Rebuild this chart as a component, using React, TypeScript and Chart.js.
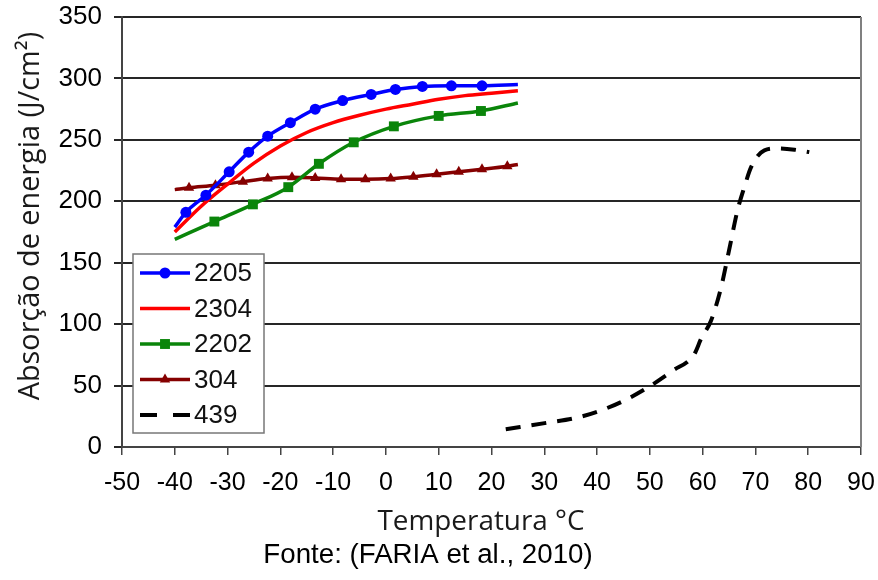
import React, { useEffect, useRef } from 'react';
import { Chart, registerables } from 'chart.js';

Chart.register(...registerables);

// ---- Data ----
const T_2205 = [-40, -37.9, -34.1, -29.7, -26, -22.4, -18.1, -13.4, -8.2, -2.8, 1.8, 6.9, 12.4, 18.2, 25];
const E_2205 = [179, 191, 205, 224, 240, 253, 264, 275, 282, 287, 291, 293.5, 294, 294, 295];

const T_2304 = [-40, -35, -30, -25, -20, -15, -10, -5, 0, 5, 10, 15, 20, 25];
const E_2304 = [175, 196, 214, 231, 245, 256, 264, 270, 275, 279, 283, 286, 288, 290];

const T_2202 = [-40, -32.5, -25.2, -18.5, -12.7, -6.1, 1.5, 10, 18, 25];
const E_2202 = [169, 183.5, 197.5, 211.5, 230.5, 248, 261, 269.5, 273.5, 280];

const T_304 = [-40, -37.3, -32.3, -27.1, -22.4, -17.8, -13.4, -8.5, -3.9, 0.9, 5.2, 9.6, 13.8, 18.2, 23, 25];
const E_304 = [209.5, 211, 213, 216, 218.5, 219.5, 219, 218, 218, 218.5, 220, 222, 224, 226, 228.5, 230];

const T_439 = [22.7, 30.6, 36.3, 41.3, 45.7, 50.2, 54.3, 58.4, 59.7, 61.6, 63.5, 65, 66.6, 67.9, 69.2, 71.7, 74.2, 77.4, 80.2];
const E_439 = [14.5, 19.8, 24, 30.7, 39, 50, 62, 75.5, 88, 103, 130, 160, 192.5, 211.5, 228, 241.5, 243, 242, 240];

const SERIES_LABELS = ['2205', '2304', '2202', '304', '439'];
const X_TICK_MIN = -50;
const X_TICK_MAX = 90;
const X_TICK_STEP = 10;
const Y_TICK_MIN = 0;
const Y_TICK_MAX = 350;
const Y_TICK_STEP = 50;

const Y_TITLE = 'Absorção de energia (J/cm²)';
const X_TITLE = 'Temperatura °C';
const SOURCE = 'Fonte: (FARIA et al., 2010)';

const ARIAL = '"Liberation Sans", Arial, sans-serif';
const CAL = '"Open Sans", "Noto Sans", sans-serif';

const toPts = (xs: number[], ys: number[]) => xs.map((x, i) => ({ x, y: ys[i] }));
const innerRadius = (xs: number[], r: number) => xs.map((_, i) => (i === 0 || i === xs.length - 1 ? 0 : r));

function drawMarker(ctx: CanvasRenderingContext2D, style: string, x: number, y: number, r: number, color: string) {
  ctx.save();
  ctx.fillStyle = color;
  ctx.beginPath();
  if (style === 'circle') {
    ctx.arc(x, y, r, 0, Math.PI * 2);
  } else if (style === 'rect') {
    const s = Math.SQRT1_2 * r;
    ctx.rect(x - s, y - s, 2 * s, 2 * s);
  } else if (style === 'triangle') {
    ctx.moveTo(x, y - r);
    ctx.lineTo(x + r * Math.sin(2 * Math.PI / 3), y - r * Math.cos(2 * Math.PI / 3));
    ctx.lineTo(x + r * Math.sin(4 * Math.PI / 3), y - r * Math.cos(4 * Math.PI / 3));
    ctx.closePath();
  }
  ctx.fill();
  ctx.restore();
}

const decorPlugin = {
  id: 'decor',
  afterDatasetsDraw(chart: any) {
    const ctx: CanvasRenderingContext2D = chart.ctx;
    const ca = chart.chartArea;
    ctx.save();
    // right border
    ctx.strokeStyle = '#808080';
    ctx.lineWidth = 2;
    ctx.beginPath();
    ctx.moveTo(ca.right, ca.top);
    ctx.lineTo(ca.right, ca.bottom);
    ctx.stroke();

    // legend box
    const bx = ca.left + 11;
    const by = ca.top + 237;
    const bw = 131;
    const bh = 179;
    ctx.fillStyle = '#ffffff';
    ctx.fillRect(bx, by, bw, bh);
    ctx.strokeStyle = '#777777';
    ctx.lineWidth = 1.5;
    ctx.strokeRect(bx, by, bw, bh);

    chart.data.datasets.forEach((ds: any, i: number) => {
      const y = by + 19 + i * 35.5;
      const x0 = bx + 7;
      const x1 = bx + 57;
      ctx.save();
      ctx.strokeStyle = ds.borderColor;
      ctx.lineWidth = ds.borderWidth;
      if (ds.borderDash && ds.borderDash.length) ctx.setLineDash([17, 16]);
      ctx.beginPath();
      ctx.moveTo(x0, y);
      ctx.lineTo(x1, y);
      ctx.stroke();
      ctx.restore();
      if (ds.legendMarker) {
        drawMarker(ctx, ds.pointStyle, (x0 + x1) / 2, y, ds.legendMarkerRadius, ds.borderColor);
      }
      ctx.fillStyle = '#111111';
      ctx.font = `26px ${ARIAL}`;
      ctx.textAlign = 'left';
      ctx.textBaseline = 'middle';
      ctx.fillText(ds.label, bx + 61, y + 1);
    });
    ctx.restore();
  },
  afterDraw(chart: any) {
    const ctx: CanvasRenderingContext2D = chart.ctx;
    ctx.save();
    ctx.fillStyle = '#1a1a1a';
    // Y title
    ctx.save();
    ctx.translate(31, 216);
    ctx.rotate(-Math.PI / 2);
    ctx.font = `25px ${CAL}`;
    let w = ctx.measureText(Y_TITLE).width;
    const fy = 25 * 368 / w;
    ctx.font = `${fy.toFixed(1)}px ${CAL}`;
    ctx.textAlign = 'center';
    ctx.textBaseline = 'middle';
    ctx.fillText(Y_TITLE, 0, 0);
    ctx.restore();

    // X title
    ctx.font = `25px ${CAL}`;
    w = ctx.measureText(X_TITLE).width;
    const fx = 25 * 207 / w;
    ctx.font = `${fx.toFixed(1)}px ${CAL}`;
    ctx.textAlign = 'center';
    ctx.textBaseline = 'alphabetic';
    ctx.fillText(X_TITLE, 481, 530);

    // Source
    ctx.fillStyle = '#000000';
    ctx.font = `26px ${ARIAL}`;
    w = ctx.measureText(SOURCE).width;
    const fs = 26 * 329 / w;
    ctx.font = `${fs.toFixed(1)}px ${ARIAL}`;
    ctx.fillText(SOURCE, 428, 563);
    ctx.restore();
  },
};

export default function App() {
  const ref = useRef<HTMLCanvasElement | null>(null);

  useEffect(() => {
    if (!ref.current) return;
    const chart = new Chart(ref.current, {
      type: 'line',
      data: {
        datasets: [
          {
            label: SERIES_LABELS[0],
            data: toPts(T_2205, E_2205),
            borderColor: '#0000ff',
            backgroundColor: '#0000ff',
            borderWidth: 3.5,
            pointStyle: 'circle',
            pointRadius: innerRadius(T_2205, 5.5),
            pointBorderWidth: 0,
            cubicInterpolationMode: 'monotone',
            legendMarker: true,
            legendMarkerRadius: 5.5,
          } as any,
          {
            label: SERIES_LABELS[1],
            data: toPts(T_2304, E_2304),
            borderColor: '#ff0000',
            backgroundColor: '#ff0000',
            borderWidth: 3.5,
            pointRadius: 0,
            cubicInterpolationMode: 'monotone',
            legendMarker: false,
          } as any,
          {
            label: SERIES_LABELS[2],
            data: toPts(T_2202, E_2202),
            borderColor: '#0a850a',
            backgroundColor: '#0a850a',
            borderWidth: 3.5,
            pointStyle: 'rect',
            pointRadius: innerRadius(T_2202, 7),
            pointBorderWidth: 0,
            cubicInterpolationMode: 'monotone',
            legendMarker: true,
            legendMarkerRadius: 7,
          } as any,
          {
            label: SERIES_LABELS[3],
            data: toPts(T_304, E_304),
            borderColor: '#850000',
            backgroundColor: '#850000',
            borderWidth: 3.5,
            pointStyle: 'triangle',
            pointRadius: innerRadius(T_304, 6),
            pointBorderWidth: 0,
            cubicInterpolationMode: 'monotone',
            legendMarker: true,
            legendMarkerRadius: 6,
          } as any,
          {
            label: SERIES_LABELS[4],
            data: toPts(T_439, E_439),
            borderColor: '#000000',
            backgroundColor: '#000000',
            borderWidth: 4,
            borderDash: [15, 11],
            pointRadius: 0,
            cubicInterpolationMode: 'monotone',
            legendMarker: false,
          } as any,
        ],
      },
      options: {
        animation: false,
        responsive: false,
        events: [],
        layout: { padding: { left: 0, right: 17, top: 17, bottom: 0 } },
        plugins: {
          legend: { display: false },
          tooltip: { enabled: false },
          title: { display: false },
        },
        scales: {
          x: {
            type: 'linear',
            min: X_TICK_MIN,
            max: X_TICK_MAX,
            ticks: {
              stepSize: X_TICK_STEP,
              color: '#000000',
              font: { family: ARIAL, size: 25 },
              padding: 13,
              maxRotation: 0,
              autoSkip: false,
            },
            grid: {
              drawOnChartArea: false,
              drawTicks: true,
              tickLength: 8,
              color: '#444444',
              lineWidth: 1.5,
            },
            border: { display: true, color: '#444444', width: 2 },
            afterFit: (scale: any) => {
              scale.height = 133;
              scale.paddingLeft = 0;
              scale.paddingRight = 0;
            },
          },
          y: {
            min: Y_TICK_MIN,
            max: Y_TICK_MAX,
            ticks: {
              stepSize: Y_TICK_STEP,
              color: '#000000',
              font: { family: ARIAL, size: 26 },
              padding: 12,
            },
            grid: {
              drawOnChartArea: true,
              drawTicks: true,
              tickLength: 8,
              color: '#262626',
              lineWidth: 2,
            },
            border: { display: true, color: '#444444', width: 2 },
            afterFit: (scale: any) => {
              scale.width = 122;
              scale.paddingTop = 0;
              scale.paddingBottom = 0;
            },
          },
        },
      } as any,
      plugins: [decorPlugin],
    });
    return () => chart.destroy();
  }, []);

  return (
    <div style={{ position: 'fixed', left: 0, top: 0, width: 878, height: 580, background: '#ffffff' }}>
      <canvas ref={ref} width={878} height={580} style={{ display: 'block', width: 878, height: 580 }} />
    </div>
  );
}
